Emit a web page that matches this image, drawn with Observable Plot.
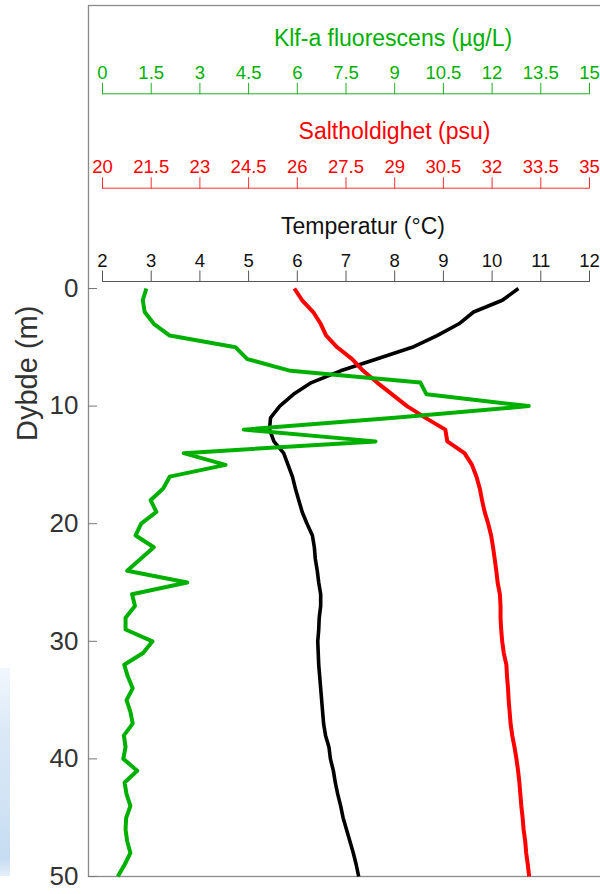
<!DOCTYPE html>
<html><head><meta charset="utf-8">
<script src="https://cdn.jsdelivr.net/npm/d3@7"></script>
<script src="https://cdn.jsdelivr.net/npm/@observablehq/plot@0.6"></script>
<style>
body{margin:0;background:#fff;overflow:hidden;}
#chart{position:relative;width:600px;height:894px;background:#fff;overflow:hidden;}
#chart svg{position:absolute;left:0;top:0;}
#bg{position:absolute;left:0;top:668px;width:10px;height:208px;background:linear-gradient(to bottom,#f2f7fc 0%,#dbe9f7 30%,#cfe2f4 70%,#c6dcf1 92%,#e6eff8 100%);}
</style></head>
<body><div id="chart"><div id="bg"></div></div>
<script>
// ---- data ----
const depth = [0,1,2,3,4,5,6,7,8,9,10,11,12,13,14,15,16,17,18,19,20,21,22,23,24,25,26,27,28,29,30,31,32,33,34,35,36,37,38,39,40,41,42,43,44,45,46,47,48,49,50];
const chl = [1.35,1.24,1.30,1.58,2.07,4.10,4.46,5.79,9.79,9.98,13.13,9.0,4.35,8.41,2.50,3.79,2.07,1.87,1.48,1.66,1.19,1.02,1.58,1.17,0.76,2.61,0.91,1.00,0.71,0.71,1.54,1.25,0.67,0.78,0.93,0.74,0.86,0.93,0.66,0.71,0.64,1.07,0.68,0.74,0.86,0.73,0.71,0.76,0.86,0.68,0.47];
const salinity = [25.91,26.15,26.49,26.72,26.89,27.23,27.69,28.03,28.46,28.92,29.38,29.95,30.56,30.62,31.15,31.38,31.52,31.62,31.69,31.77,31.88,31.97,32.03,32.08,32.13,32.17,32.24,32.26,32.26,32.28,32.31,32.36,32.44,32.46,32.49,32.51,32.54,32.57,32.62,32.69,32.75,32.80,32.84,32.87,32.90,32.94,32.97,33.02,33.05,33.10,33.14];
const temperature = [10.54,10.21,9.62,9.32,8.87,8.36,7.63,6.89,6.29,5.92,5.64,5.45,5.43,5.52,5.72,5.81,5.90,5.96,6.03,6.10,6.20,6.31,6.35,6.37,6.41,6.44,6.48,6.48,6.45,6.44,6.42,6.43,6.44,6.46,6.48,6.50,6.52,6.54,6.58,6.65,6.68,6.74,6.78,6.83,6.89,6.94,7.01,7.08,7.15,7.21,7.26];

const chlTicks = [0,1.5,3,4.5,6,7.5,9,10.5,12,13.5,15];
const salTicks = [20,21.5,23,24.5,26,27.5,29,30.5,32,33.5,35];
const tempTicks = [2,3,4,5,6,7,8,9,10,11,12];
const depthTicks = [0,10,20,30,40,50];

const chlLabel = "Klf-a fluorescens (µg/L)";
const salLabel = "Saltholdighet (psu)";
const tempLabel = "Temperatur (°C)";
const depthLabel = "Dybde (m)";

// ---- layout ----
const W = 600, H = 894;
const font = "'Liberation Sans', Arial, Helvetica, sans-serif";
const yDef = {domain: [0, 50], range: [288, 876]};
const GREEN = "#00b000", RED = "#ff0000", BLACK = "#000000";

function seriesPlot({values, ticks, label, lineColor, textColor, tickColor, axisTop, titleBase, titleDx, strokeWidth}) {
  const domain = [ticks[0], ticks[ticks.length - 1]];
  return Plot.plot({
    width: W, height: H,
    marginTop: axisTop, marginLeft: 102, marginRight: 11, marginBottom: 18,
    style: {background: "transparent", fontFamily: font, overflow: "visible"},
    x: {domain, range: [102, 589]},
    y: {...yDef, axis: null},
    marks: [
      Plot.ruleY([0], {x1: domain[0], x2: domain[1], dy: axisTop - 288, stroke: tickColor, strokeWidth: 1}),
      Plot.axisX(ticks, {anchor: "top", tickSize: 11.5, tickPadding: 3.5, fontSize: 18.5,
        fill: textColor, stroke: tickColor, strokeWidth: 1, label: null, tickFormat: d => String(d)}),
      Plot.text([label], {frameAnchor: "top", dx: titleDx, dy: titleBase - axisTop, lineAnchor: "bottom",
        fontSize: 23, fill: textColor}),
      Plot.line(depth, {x: (d, i) => values[i], y: d => d, stroke: lineColor, strokeWidth,
        strokeLinejoin: "round", strokeLinecap: "butt"})
    ]
  });
}

const base = Plot.plot({
  width: W, height: H,
  marginTop: 5, marginLeft: 88, marginRight: -10, marginBottom: 18,
  style: {background: "transparent", fontFamily: font, overflow: "hidden"},
  y: yDef,
  marks: [
    Plot.frame({stroke: "#8a8a8a", strokeWidth: 1.3}),
    Plot.axisY(depthTicks, {anchor: "left", tickSize: -9, tickPadding: 19, fontSize: 26,
      fill: "#333", stroke: "#777", label: null}),
    Plot.text([depthLabel], {frameAnchor: "left", dx: -60.5, rotate: -90, fontSize: 29, fill: "#333"})
  ]
});

const greenPlot = seriesPlot({values: chl, ticks: chlTicks, label: chlLabel, lineColor: "#00b000",
  textColor: GREEN, tickColor: "#22b022", axisTop: 93.3, titleBase: 45, titleDx: 47, strokeWidth: 4});
const redPlot = seriesPlot({values: salinity, ticks: salTicks, label: salLabel, lineColor: RED,
  textColor: RED, tickColor: "#ff3030", axisTop: 187.7, titleBase: 138.5, titleDx: 48.5, strokeWidth: 4});
const blackPlot = seriesPlot({values: temperature, ticks: tempTicks, label: tempLabel, lineColor: BLACK,
  textColor: "#111", tickColor: "#555", axisTop: 281, titleBase: 233, titleDx: 17, strokeWidth: 3.6});

const chart = document.getElementById("chart");
chart.append(base, blackPlot, redPlot, greenPlot);
</script>
</body></html>
